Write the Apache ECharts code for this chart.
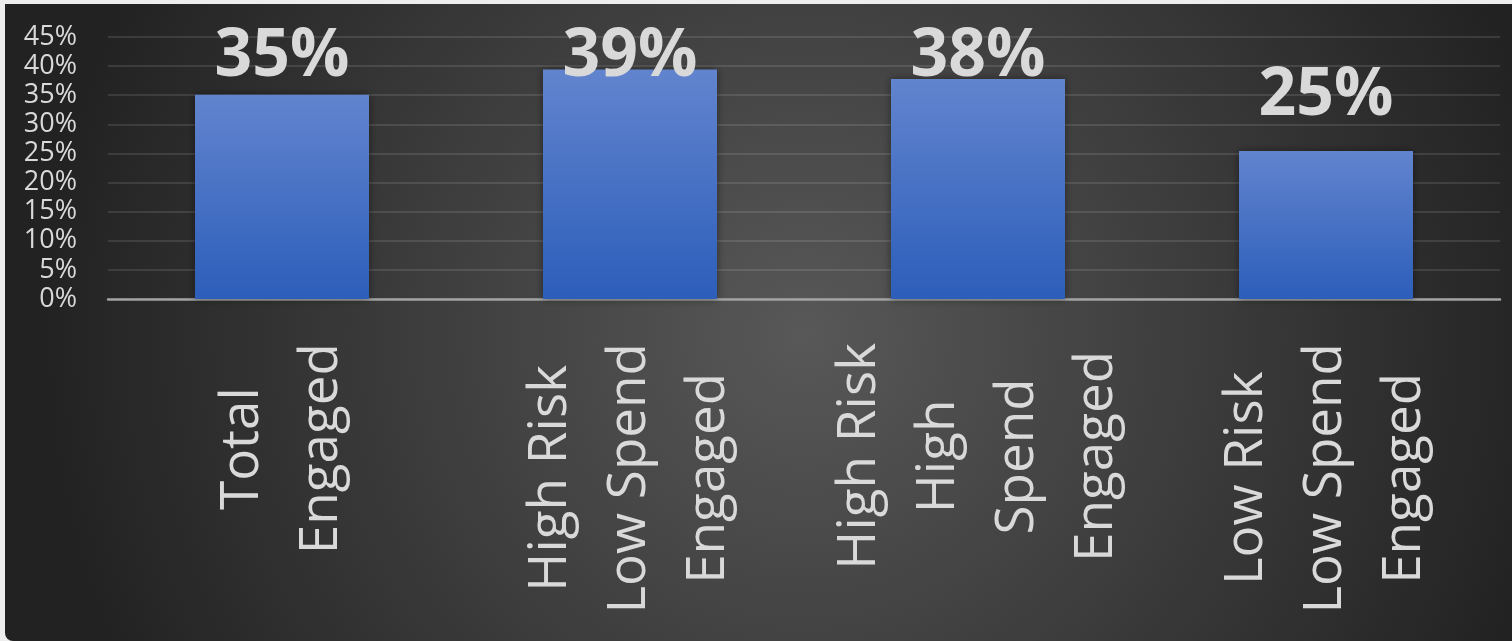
<!DOCTYPE html>
<html>
<head>
<meta charset="utf-8">
<script src="https://cdn.jsdelivr.net/npm/echarts@6/dist/echarts.min.js"></script>
<style>
  html, body { margin: 0; padding: 0; background: #eeeeee; }
  #chart {
    position: absolute; left: 5px; top: 4px;
    width: 1507px; height: 637px;
    border-bottom-left-radius: 8px; overflow: hidden;
  }
</style>
</head>
<body>
<div id="chart"></div>
<script>
// categories (multi-line, as in the original axis)
var categories = [
  ['Total', 'Engaged'],
  ['High Risk', 'Low Spend', 'Engaged'],
  ['High Risk', 'High', 'Spend', 'Engaged'],
  ['Low Risk', 'Low Spend', 'Engaged']
];
// percent engaged
var engaged = [35.1, 39.4, 37.8, 25.4];
var yTicks = [0, 5, 10, 15, 20, 25, 30, 35, 40, 45];

var chart = echarts.init(document.getElementById('chart'));

var textColor = '#d9d9d9';
var labelTop = 20; // keep data labels inside the chart area (like Excel)

var option = {
  backgroundColor: {
    type: 'radial', x: 0.53, y: 0.52, r: 1.2,
    colorStops: [
      { offset: 0, color: '#585858' },
      { offset: 1, color: '#222222' }
    ]
  },
  animation: false,
  grid: { left: 103, right: 12, top: 33, bottom: 342 },
  xAxis: {
    type: 'category',
    data: categories.map(function (c) { return c.join('\n'); }),
    axisTick: { show: false },
    axisLine: { lineStyle: { color: '#a3a3a3', width: 2.5 } },
    axisLabel: {
      rotate: 90,
      margin: 44,
      interval: 0,
      color: textColor,
      fontFamily: 'Open Sans',
      fontSize: 53,
      lineHeight: 79,
      formatter: function (v) {
        return v.split('\n').map(function (s) { return '{c|' + s + '}'; }).join('\n');
      },
      rich: {
        c: { align: 'center', fontFamily: 'Open Sans', fontSize: 53, lineHeight: 79, color: textColor }
      }
    }
  },
  yAxis: {
    type: 'value',
    min: yTicks[0],
    max: yTicks[yTicks.length - 1],
    interval: 5,
    axisLine: { show: false },
    axisTick: { show: false },
    splitLine: { lineStyle: { color: 'rgba(255,255,255,0.11)', width: 2 } },
    axisLabel: {
      margin: 31,
      color: textColor,
      fontFamily: 'Open Sans',
      fontSize: 27,
      formatter: '{value}%'
    }
  },
  series: [{
    type: 'bar',
    data: engaged,
    barWidth: '50%',
    itemStyle: {
      color: {
        type: 'linear', x: 0, y: 0, x2: 0, y2: 1,
        colorStops: [
          { offset: 0, color: '#6284ce' },
          { offset: 1, color: '#2c5eba' }
        ]
      },
      shadowBlur: 8,
      shadowColor: 'rgba(0,0,0,0.45)'
    },
    label: {
      show: true,
      position: 'top',
      distance: 22,
      color: textColor,
      fontFamily: 'Open Sans',
      fontWeight: 'bold',
      fontSize: 66,
      formatter: function (p) { return Math.round(p.value) + '%'; }
    },
    labelLayout: function (p) {
      var r = p.labelRect;
      if (r.y < labelTop) {
        return { x: r.x + r.width / 2, y: labelTop, align: 'center', verticalAlign: 'top' };
      }
      return {};
    }
  }]
};

chart.setOption(option);
</script>
</body>
</html>
